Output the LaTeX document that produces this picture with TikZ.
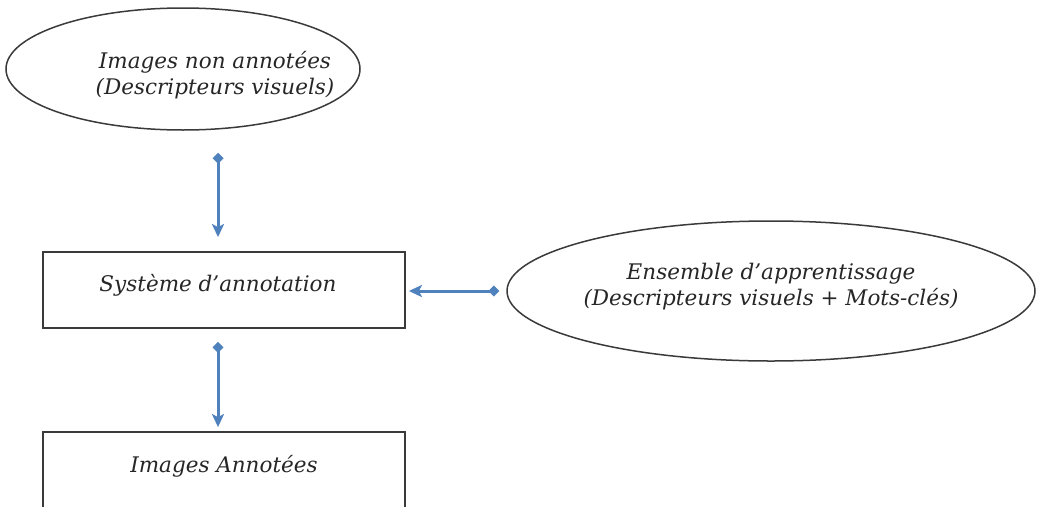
\documentclass[tikz,border=0pt]{standalone}
\usepackage{fontspec}
\setmainfont{DejaVu Serif}
\usetikzlibrary{arrows.meta,shapes.geometric}
\definecolor{linkblue}{HTML}{4F81BD}
\definecolor{edge}{HTML}{3A3A3A}
\tikzset{
  lbl/.style={font=\fontsize{21.5}{26}\selectfont\itshape, text=black!85, align=center},
  oval/.style={ellipse, draw=edge, line width=1.5pt, inner sep=0pt, lbl},
  boxnode/.style={rectangle, draw=edge, line width=1.8pt, inner sep=0pt, lbl},
  link/.style={draw=linkblue, line width=3pt,
    {Diamond[length=11pt,width=11pt]}-{Stealth[length=13pt,width=12pt,inset=3pt]}},
}
\begin{document}
\begin{tikzpicture}[x=1pt,y=-1pt]
\useasboundingbox (0,0) rectangle (1040,506);
\begin{scope}
\clip (0,0) rectangle (1040,506);
\node[oval, minimum width=354pt, minimum height=122pt] (raw) at (183,69) {};
\node[lbl] at ([xshift=32pt,yshift=-6pt]raw.center) {Images non annotées\\(Descripteurs visuels)};
\node[boxnode, minimum width=362pt, minimum height=76pt] (sys) at (224,290) {};
\node[lbl] at ([xshift=-6pt,yshift=5pt]sys.center) {Système d’annotation};
\node[oval, minimum width=528pt, minimum height=140pt] (train) at (771,291) {};
\node[lbl] at ([yshift=4pt]train.center) {Ensemble d’apprentissage\\(Descripteurs visuels + Mots-clés)};
\node[boxnode, minimum width=362pt, minimum height=76pt] (out) at (224,470) {};
\node[lbl] at ([yshift=4pt]out.center) {Images Annotées};
\draw[link, shorten <=22pt, shorten >=14pt] (raw.south -| 218,0) -- (sys.north -| 218,0);
\draw[link, shorten <=7pt, shorten >=3pt] (train.west) -- (sys.east |- train.west);
\draw[link, shorten <=13pt, shorten >=4pt] (sys.south -| 218,0) -- (out.north -| 218,0);
\end{scope}
\end{tikzpicture}
\end{document}
